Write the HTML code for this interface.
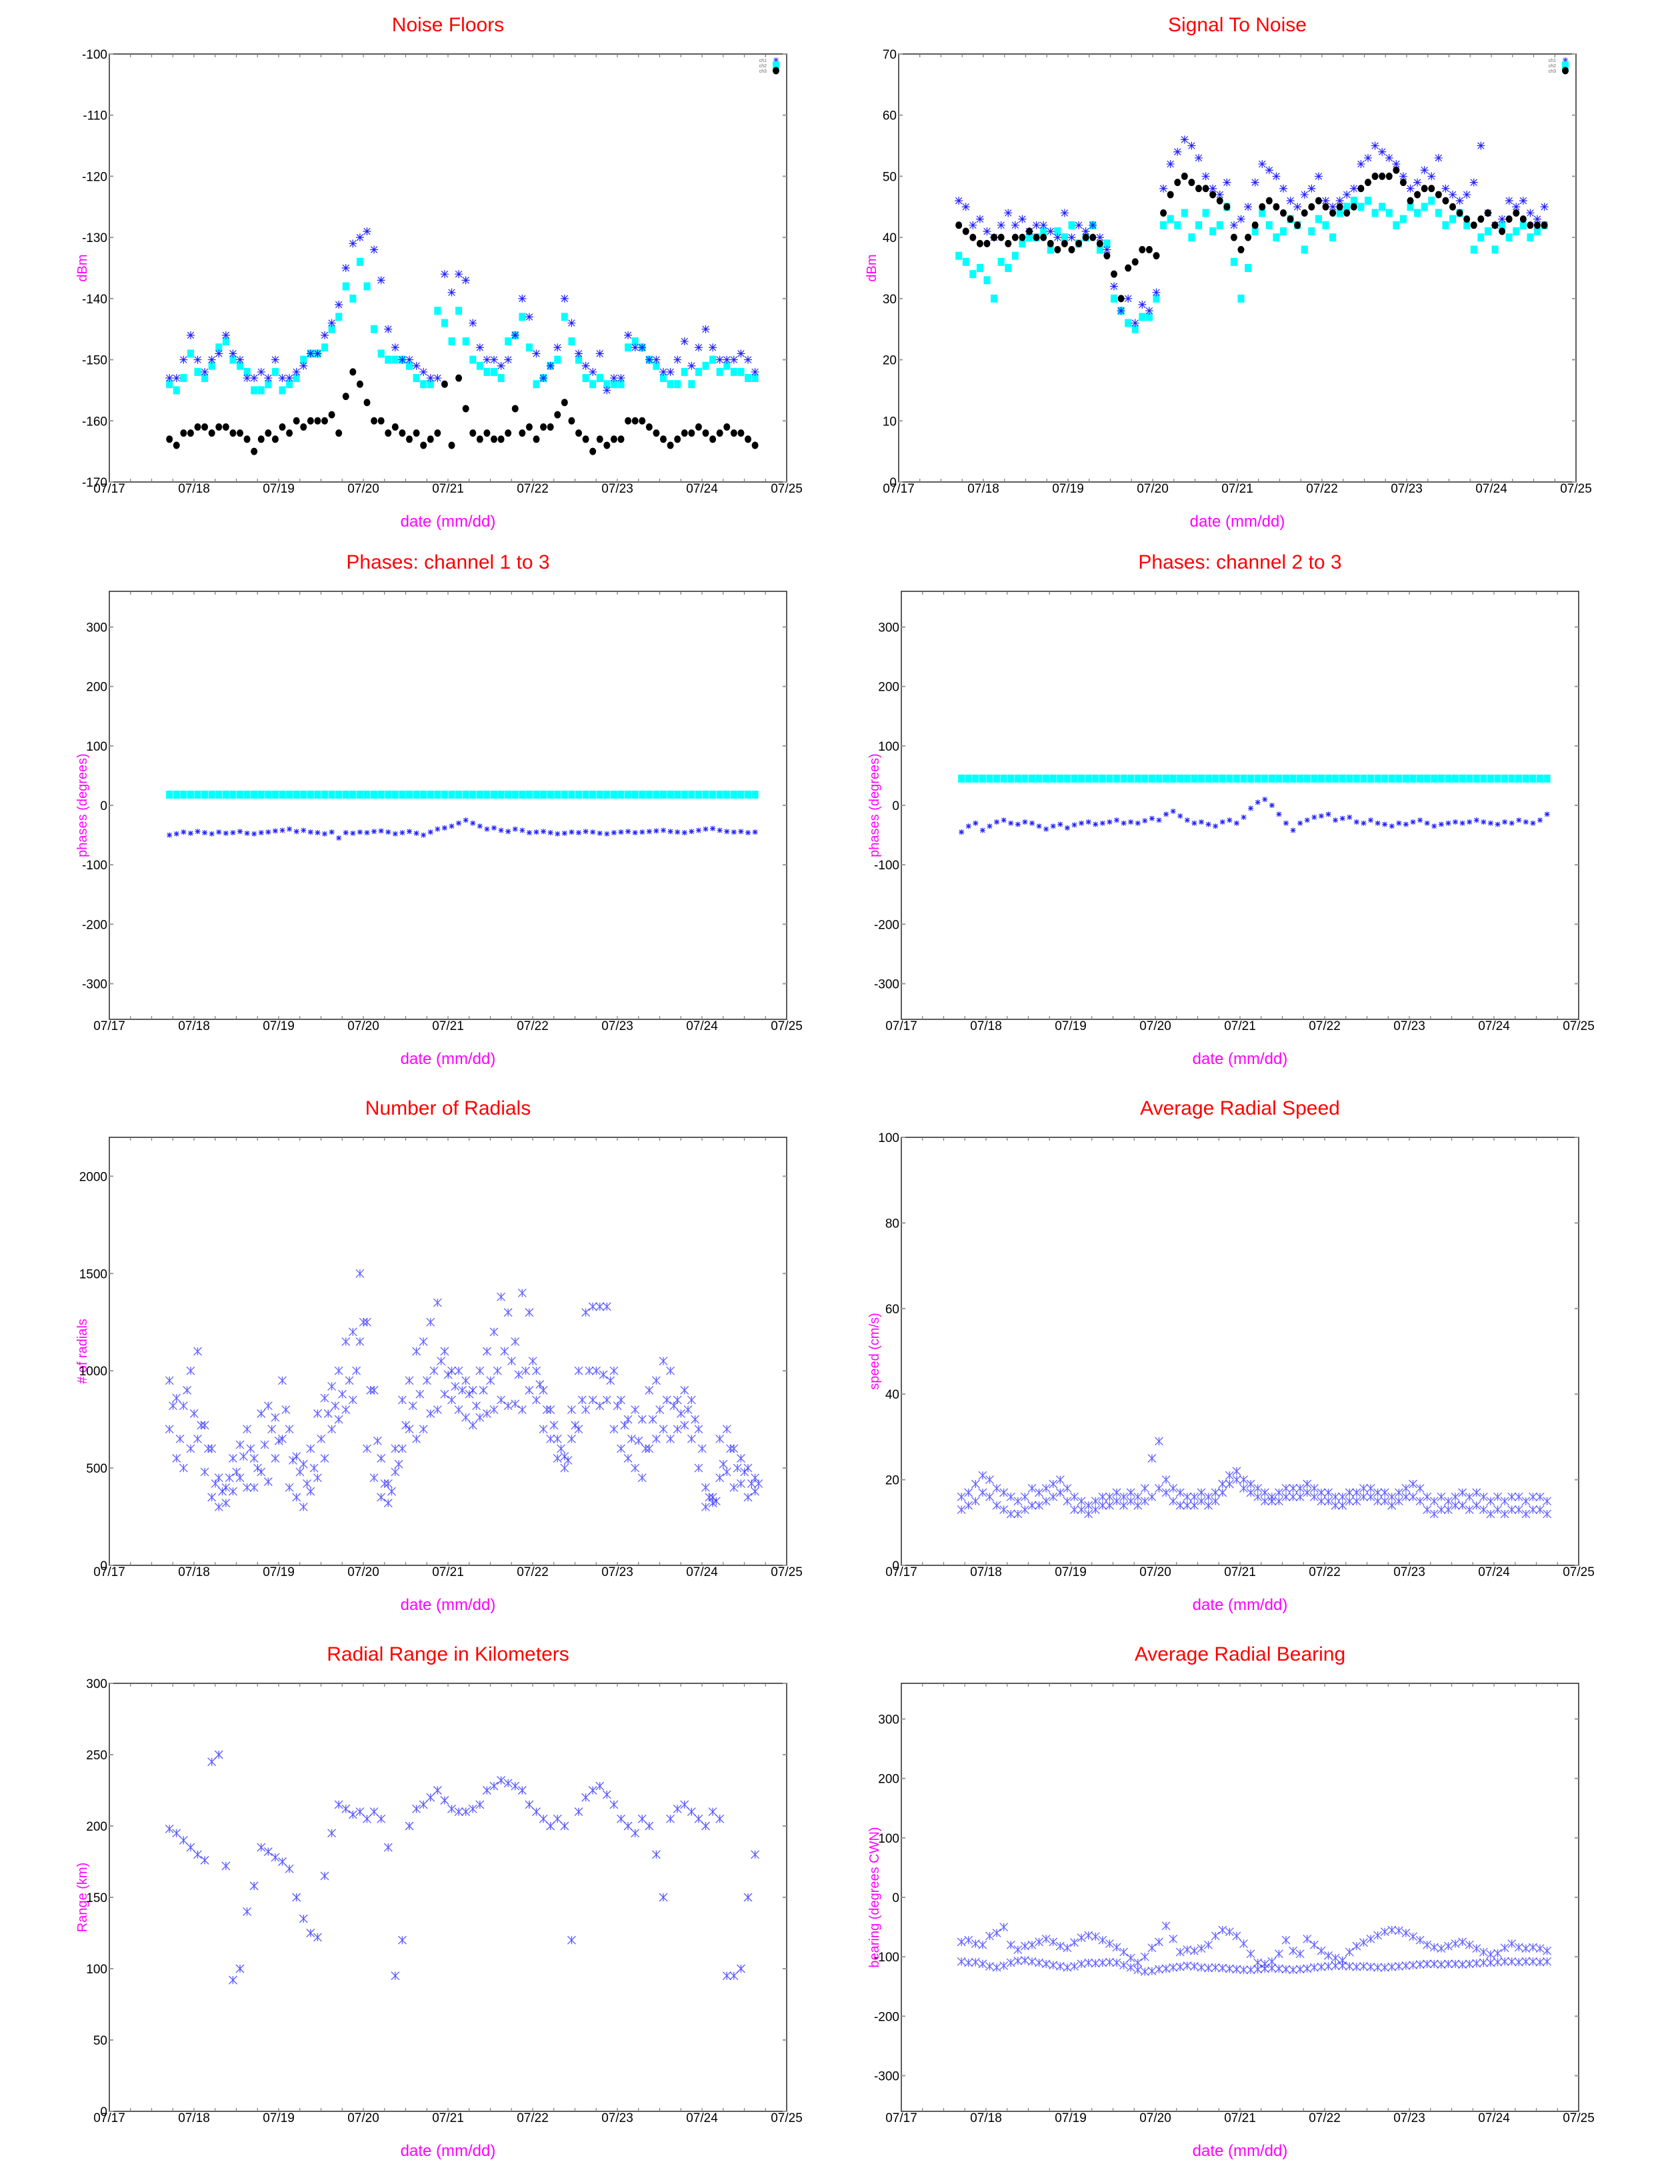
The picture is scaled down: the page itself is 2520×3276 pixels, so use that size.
<!DOCTYPE html>
<html><head><meta charset="utf-8"><title>Radial diagnostics</title>
<style>
html,body{margin:0;padding:0;background:#fff;}
svg{display:block;font-family:"Liberation Sans",sans-serif;}
.title{fill:#ff0000;font-size:30px;text-anchor:middle;}
.xlab{fill:#ff00ff;font-size:24px;text-anchor:middle;}
.ylab{fill:#ff00ff;font-size:20px;text-anchor:middle;}
</style></head>
<body>
<svg id="fig" width="2520" height="3276" viewBox="0 0 2520 3276" xmlns="http://www.w3.org/2000/svg">
<rect x="0" y="0" width="2520" height="3276" fill="#fff"/>
<g id="c-noise">
 <text class="title" x="672" y="47">Noise Floors</text>
 <text class="xlab" x="672" y="790">date (mm/dd)</text>
 <text class="ylab" transform="translate(130,402) rotate(-90)">dBm</text>
</g>
<g id="c-snr">
 <text class="title" x="1856" y="47">Signal To Noise</text>
 <text class="xlab" x="1856" y="790">date (mm/dd)</text>
 <text class="ylab" transform="translate(1314,402) rotate(-90)">dBm</text>
</g>
<g id="c-ph13">
 <text class="title" x="672" y="853">Phases: channel 1 to 3</text>
 <text class="xlab" x="672" y="1596">date (mm/dd)</text>
 <text class="ylab" transform="translate(130,1208) rotate(-90)">phases (degrees)</text>
</g>
<g id="c-ph23">
 <text class="title" x="1860" y="853">Phases: channel 2 to 3</text>
 <text class="xlab" x="1860" y="1596">date (mm/dd)</text>
 <text class="ylab" transform="translate(1318,1208) rotate(-90)">phases (degrees)</text>
</g>
<g id="c-rad">
 <text class="title" x="672" y="1672">Number of Radials</text>
 <text class="xlab" x="672" y="2415">date (mm/dd)</text>
 <text class="ylab" transform="translate(130,2027) rotate(-90)"># of radials</text>
</g>
<g id="c-spd">
 <text class="title" x="1860" y="1672">Average Radial Speed</text>
 <text class="xlab" x="1860" y="2415">date (mm/dd)</text>
 <text class="ylab" transform="translate(1318,2027) rotate(-90)">speed (cm/s)</text>
</g>
<g id="c-rng">
 <text class="title" x="672" y="2491">Radial Range in Kilometers</text>
 <text class="xlab" x="672" y="3234">date (mm/dd)</text>
 <text class="ylab" transform="translate(130,2846) rotate(-90)">Range (km)</text>
</g>
<g id="c-brg">
 <text class="title" x="1860" y="2491">Average Radial Bearing</text>
 <text class="xlab" x="1860" y="3234">date (mm/dd)</text>
 <text class="ylab" transform="translate(1318,2846) rotate(-90)">bearing (degrees CWN)</text>
</g>
</svg>
<script>
// ---- data ----
const xTickLabels = ["07/17","07/18","07/19","07/20","07/21","07/22","07/23","07/24","07/25"];
const tStart = 0.71;       // first sample, days after 07/17 00:00
const tStep = 1/12;        // 2-hour sampling

const noiseYTicks = [-170,-160,-150,-140,-130,-120,-110,-100];
const noiseCh1 = [-153,-153,-150,-146,-150,-152,-150,-149,-146,-149,-150,-153,
 -153,-152,-153,-150,-153,-153,-152,-151,-149,-149,-146,-144,
 -141,-135,-131,-130,-129,-132,-137,-145,-148,-150,-150,-151,
 -152,-153,-153,-136,-139,-136,-137,-144,-148,-150,-150,-151,
 -150,-146,-140,-143,-149,-153,-151,-148,-140,-144,-149,-151,
 -152,-149,-155,-153,-153,-146,-148,-148,-150,-150,-152,-152,
 -150,-147,-151,-148,-145,-148,-150,-150,-150,-149,-150,-152];
const noiseCh2 = [-154,-155,-153,-149,-152,-153,-151,-148,-147,-150,-151,-152,
 -155,-155,-154,-152,-155,-154,-153,-150,-149,-149,-148,-145,
 -143,-138,-140,-134,-138,-145,-149,-150,-150,-150,-151,-153,
 -154,-154,-142,-144,-147,-142,-147,-150,-151,-152,-152,-153,
 -147,-146,-143,-148,-154,-153,-151,-150,-143,-147,-150,-153,
 -154,-153,-154,-154,-154,-148,-147,-148,-150,-151,-153,-154,
 -154,-152,-154,-152,-151,-150,-152,-151,-152,-152,-153,-153];
const noiseCh3 = [-163,-164,-162,-162,-161,-161,-162,-161,-161,-162,-162,-163,
 -165,-163,-162,-163,-161,-162,-160,-161,-160,-160,-160,-159,
 -162,-156,-152,-154,-157,-160,-160,-162,-161,-162,-163,-162,
 -164,-163,-162,-154,-164,-153,-158,-162,-163,-162,-163,-163,
 -162,-158,-162,-161,-163,-161,-161,-159,-157,-160,-162,-163,
 -165,-163,-164,-163,-163,-160,-160,-160,-161,-162,-163,-164,
 -163,-162,-162,-161,-162,-163,-162,-161,-162,-162,-163,-164];

const snrYTicks = [0,10,20,30,40,50,60,70];
const snrCh1 = [46,45,42,43,41,40,42,44,42,43,41,42,
 42,41,40,44,40,42,41,42,40,38,32,28,
 30,26,29,28,31,48,52,54,56,55,53,50,
 48,47,49,42,43,45,49,52,51,50,48,46,
 45,47,48,50,46,45,46,47,48,52,53,55,
 54,53,52,50,48,49,51,50,53,48,47,46,
 47,49,55,44,42,43,46,45,46,44,43,45];
const snrCh2 = [37,36,34,35,33,30,36,35,37,39,40,40,
 41,38,41,40,42,39,40,42,38,39,30,28,
 26,25,27,27,30,42,43,42,44,40,42,44,
 41,42,45,36,30,35,41,44,42,40,41,43,
 42,38,41,43,42,40,44,45,46,45,46,44,
 45,44,42,43,45,44,45,46,44,42,43,44,
 42,38,40,41,38,42,40,41,42,40,41,42];
const snrCh3 = [42,41,40,39,39,40,40,39,40,40,41,40,
 40,39,38,39,38,39,40,40,39,37,34,30,
 35,36,38,38,37,44,47,49,50,49,48,48,
 47,46,45,40,38,40,42,45,46,45,44,43,
 42,44,45,46,45,44,45,44,45,48,49,50,
 50,50,51,49,46,47,48,48,47,46,45,44,
 43,42,43,44,42,41,43,44,43,42,42,42];

const phaseYTicks = [-300,-200,-100,0,100,200,300];
const phase13Ref = 18;
const phase13 = [-50,-48,-45,-47,-44,-46,-48,-45,-47,-46,-44,-47,
 -48,-46,-45,-43,-42,-40,-44,-42,-45,-46,-48,-45,
 -55,-46,-47,-45,-46,-44,-43,-45,-48,-46,-44,-47,
 -50,-45,-40,-38,-35,-30,-25,-30,-35,-40,-38,-42,
 -44,-40,-42,-46,-45,-44,-46,-48,-47,-45,-46,-44,
 -45,-47,-48,-46,-45,-44,-46,-45,-44,-43,-42,-44,
 -45,-46,-44,-42,-40,-39,-42,-44,-45,-44,-46,-45];
const phase23Ref = 45;
const phase23 = [-45,-35,-30,-42,-35,-28,-25,-30,-32,-28,-30,-35,
 -40,-35,-32,-38,-33,-30,-28,-32,-30,-28,-25,-30,
 -28,-30,-26,-22,-25,-15,-10,-18,-25,-30,-28,-32,
 -35,-28,-25,-30,-20,-5,5,10,0,-15,-30,-42,
 -30,-25,-20,-18,-15,-25,-22,-20,-28,-30,-25,-30,
 -32,-35,-30,-32,-28,-25,-30,-35,-32,-30,-28,-30,
 -28,-25,-28,-30,-32,-28,-30,-25,-28,-30,-25,-15];

const radYTicks = [0,500,1000,1500,2000];
const radialsA = [950,860,820,1000,1100,720,600,450,400,550,620,700,
 550,780,820,760,950,700,560,520,600,780,860,920,
 1000,1150,1200,1500,1250,900,550,420,600,850,950,1100,
 1150,1250,1350,1100,1000,1000,950,900,1000,1100,1200,1380,
 1300,1150,1400,1300,1000,900,800,650,560,800,1000,1300,
 1330,1330,1330,1000,850,750,800,750,900,950,1050,1000,
 850,900,850,700,400,350,650,700,600,550,500,450];
const radialsB = [700,550,500,600,650,480,350,300,320,380,450,400,
 400,480,430,550,650,400,350,300,380,450,550,700,
 750,800,850,1150,600,450,350,320,480,600,700,650,
 700,780,800,880,850,800,760,720,760,780,800,850,
 820,830,800,900,850,700,650,550,500,650,700,800,
 850,820,850,700,600,550,500,450,600,650,700,650,
 700,720,650,500,300,320,450,480,400,420,350,380];
const radialsC = [820,650,900,780,720,600,420,380,450,480,560,600,
 500,620,700,640,800,540,480,420,500,650,780,820,
 880,950,1000,1250,900,640,420,380,520,720,820,880,
 950,1000,1050,980,920,900,880,820,900,950,1000,1100,
 1050,980,1000,1050,930,800,720,600,540,720,850,1000,
 1000,980,950,820,720,650,640,600,750,800,850,820,
 780,800,750,600,350,330,520,600,500,480,420,420];

const speedYTicks = [0,20,40,60,80,100];
const speedA = [16,17,19,21,20,18,17,16,15,16,18,17,
 18,19,20,18,16,15,14,15,16,16,17,16,
 17,16,18,25,29,20,18,17,16,16,17,16,
 17,19,21,22,20,19,18,17,16,17,18,18,
 18,19,18,17,17,16,16,17,17,18,18,17,
 17,16,17,18,19,18,16,15,16,15,16,17,
 16,17,16,15,16,15,16,16,15,16,16,15];
const speedB = [13,14,15,17,16,14,13,12,12,13,14,14,
 15,16,17,15,13,13,12,13,14,14,15,14,
 15,14,15,16,18,17,15,14,14,14,15,14,
 15,17,19,20,18,17,16,15,15,15,16,16,
 16,17,16,15,15,14,14,15,15,16,16,15,
 15,14,15,16,16,15,13,12,13,13,14,14,
 13,14,13,12,13,12,13,13,12,13,13,12];

const rangeYTicks = [0,50,100,150,200,250,300];
const rangeKm = [198,195,190,185,180,176,245,250,172,92,100,140,
 158,185,182,178,175,170,150,135,125,122,165,195,
 215,212,208,210,205,210,205,185,95,120,200,212,
 215,220,225,218,212,210,210,212,215,225,228,232,
 230,228,225,215,210,205,200,205,200,120,210,220,
 225,228,222,215,205,200,195,205,200,180,150,205,
 212,215,210,205,200,210,205,95,95,100,150,180];

const bearingYTicks = [-300,-200,-100,0,100,200,300];
const bearingA = [-75,-72,-78,-80,-65,-60,-50,-80,-88,-82,-80,-75,
 -70,-75,-82,-85,-76,-68,-64,-66,-72,-78,-84,-92,
 -102,-110,-100,-85,-75,-48,-70,-92,-88,-90,-86,-80,
 -65,-55,-58,-65,-78,-95,-110,-112,-108,-95,-72,-90,
 -95,-70,-80,-90,-98,-102,-106,-92,-82,-76,-70,-64,
 -58,-55,-56,-60,-66,-72,-80,-84,-86,-82,-78,-75,
 -80,-86,-92,-96,-94,-85,-78,-84,-86,-84,-86,-90];
const bearingB = [-108,-110,-109,-112,-116,-118,-115,-110,-107,-106,-108,-110,
 -112,-114,-116,-118,-116,-112,-110,-111,-110,-109,-110,-114,
 -118,-122,-125,-124,-121,-120,-118,-117,-115,-116,-118,-119,
 -118,-119,-120,-121,-122,-122,-121,-120,-119,-120,-121,-122,
 -121,-120,-118,-117,-116,-115,-115,-116,-117,-116,-117,-118,
 -118,-117,-116,-115,-114,-113,-112,-112,-113,-112,-112,-113,
 -112,-111,-110,-110,-109,-108,-108,-109,-108,-108,-109,-108];

// ---- drawing ----
const NS = "http://www.w3.org/2000/svg";
const W = 1016, H = 642, DAYS = 8;
function mk(tag, parent) { const e = document.createElementNS(NS, tag); parent.appendChild(e); return e; }

function frame(gid, L, T, ymin, ymax, yticks) {
  const g = document.getElementById(gid);
  const sx = t => L + t / DAYS * W;
  const sy = v => T + H - (v - ymin) / (ymax - ymin) * H;
  const box = mk("rect", g);
  
  
  box.setAttribute("x", L); box.setAttribute("y", T); box.setAttribute("width", W); box.setAttribute("height", H);
  box.setAttribute("fill", "none"); box.setAttribute("stroke", "#333"); box.setAttribute("stroke-width", "1.6");
  for (let q = 1; q < DAYS * 4; q++) {
    const x = sx(q / 4);
    for (const [y1, y2] of [[T + H, T + H - 5], [T, T + 5]]) {
      const tk = mk("line", g);
      
      
      tk.setAttribute("x1", x); tk.setAttribute("x2", x); tk.setAttribute("y1", y1); tk.setAttribute("y2", y2);
      tk.setAttribute("stroke", "#777"); tk.setAttribute("stroke-width", "1.2");
    }
  }
  xTickLabels.forEach((lab, d) => {
    const tx = mk("text", g);
    
    
    tx.setAttribute("x", sx(d)); tx.setAttribute("y", T + H + 16);
    tx.setAttribute("font-size", "19"); tx.setAttribute("text-anchor", "middle");
    tx.textContent = lab;
  });
  yticks.forEach(v => {
    const y = sy(v);
    for (const [x1, x2] of [[L, L + 6], [L + W, L + W - 6]]) {
      const tk = mk("line", g);
      
      
      tk.setAttribute("x1", x1); tk.setAttribute("x2", x2); tk.setAttribute("y1", y); tk.setAttribute("y2", y);
      tk.setAttribute("stroke", "#999"); tk.setAttribute("stroke-width", "2");
    }
    const tx = mk("text", g);
    
    
    tx.setAttribute("x", L - 3); tx.setAttribute("y", y + 7);
    tx.setAttribute("font-size", "19"); tx.setAttribute("text-anchor", "end");
    tx.textContent = String(v);
  });
  return { g, sx, sy, L, T };
}

function star(g, x, y, r, color, sw, op) {
  const p = mk("path", g);
  
  
  const d = r * 0.8;
  p.setAttribute("d", `M${x-r},${y}H${x+r}M${x},${y-r}V${y+r}M${x-d},${y-d}L${x+d},${y+d}M${x-d},${y+d}L${x+d},${y-d}`);
  p.setAttribute("stroke", color); p.setAttribute("stroke-width", sw); p.setAttribute("opacity", op);
  return p;
}
function xmark(g, x, y, r, color, op) {
  const p = mk("path", g);
  
  
  p.setAttribute("d", `M${x-r},${y-r}L${x+r},${y+r}M${x-r},${y+r}L${x+r},${y-r}M${x},${y-r}V${y+r}`);
  p.setAttribute("stroke", color); p.setAttribute("stroke-width", "1.3"); p.setAttribute("opacity", op);
  p.setAttribute("fill", "none");
  return p;
}
function square(g, x, y, color) {
  const r = mk("rect", g);
  
  
  r.setAttribute("x", x - 5); r.setAttribute("y", y - 6); r.setAttribute("width", 10); r.setAttribute("height", 12);
  r.setAttribute("fill", color);
  return r;
}
function dot(g, x, y) {
  const c = mk("ellipse", g);
  
  
  c.setAttribute("cx", x); c.setAttribute("cy", y); c.setAttribute("rx", 5); c.setAttribute("ry", 5.5);
  c.setAttribute("fill", "#000");
  return c;
}
function tx(i) { return tStart + i * tStep; }

function legend(f) {
  const R = f.L + W;
  ["ch1","ch2","ch3"].forEach((lab, k) => {
    const t = mk("text", f.g);
    
    
    t.setAttribute("x", R - 30); t.setAttribute("y", f.T + 12 + k * 8);
    t.setAttribute("font-size", "7"); t.setAttribute("fill", "#666"); t.setAttribute("text-anchor", "end");
    t.textContent = lab;
  });
  star(f.g, R - 16, f.T + 9, 4, "#3030ff", 1, 1);
  square(f.g, R - 16, f.T + 17, "#00ffff");
  dot(f.g, R - 16, f.T + 25);
}

(function(){
  const f = frame("c-noise", 164, 81, -170, -100, noiseYTicks);
  noiseCh2.forEach((v,i)=>square(f.g, f.sx(tx(i)), f.sy(v), "#00ffff"));
  noiseCh1.forEach((v,i)=>star(f.g, f.sx(tx(i)), f.sy(v), 6, "#2020ff", 1.2, 1));
  noiseCh3.forEach((v,i)=>dot(f.g, f.sx(tx(i)), f.sy(v)));
  legend(f);
})();
(function(){
  const f = frame("c-snr", 1348, 81, 0, 70, snrYTicks);
  snrCh2.forEach((v,i)=>square(f.g, f.sx(tx(i)), f.sy(v), "#00ffff"));
  snrCh1.forEach((v,i)=>star(f.g, f.sx(tx(i)), f.sy(v), 6, "#2020ff", 1.2, 1));
  snrCh3.forEach((v,i)=>dot(f.g, f.sx(tx(i)), f.sy(v)));
  legend(f);
})();
(function(){
  const f = frame("c-ph13", 164, 887, -360, 360, phaseYTicks);
  phase13.forEach((v,i)=>square(f.g, f.sx(tx(i)), f.sy(phase13Ref), "#00ffff"));
  phase13.forEach((v,i)=>star(f.g, f.sx(tx(i)), f.sy(v), 4, "#2020ff", 1.2, 1));
})();
(function(){
  const f = frame("c-ph23", 1352, 887, -360, 360, phaseYTicks);
  phase23.forEach((v,i)=>square(f.g, f.sx(tx(i)), f.sy(phase23Ref), "#00ffff"));
  phase23.forEach((v,i)=>star(f.g, f.sx(tx(i)), f.sy(v), 4, "#2020ff", 1.2, 1));
})();
(function(){
  const f = frame("c-rad", 164, 1706, 0, 2200, radYTicks);
  radialsA.forEach((v,i)=>xmark(f.g, f.sx(tx(i)), f.sy(v), 6, "#2020ff", 0.7));
  radialsB.forEach((v,i)=>xmark(f.g, f.sx(tx(i)), f.sy(v), 6, "#2020ff", 0.7));
  radialsC.forEach((v,i)=>xmark(f.g, f.sx(tx(i) + tStep/2), f.sy(v), 6, "#2020ff", 0.7));
})();
(function(){
  const f = frame("c-spd", 1352, 1706, 0, 100, speedYTicks);
  speedA.forEach((v,i)=>xmark(f.g, f.sx(tx(i)), f.sy(v), 6, "#2020ff", 0.7));
  speedB.forEach((v,i)=>xmark(f.g, f.sx(tx(i)), f.sy(v), 6, "#2020ff", 0.7));
})();
(function(){
  const f = frame("c-rng", 164, 2525, 0, 300, rangeYTicks);
  rangeKm.forEach((v,i)=>xmark(f.g, f.sx(tx(i)), f.sy(v), 6, "#2020ff", 0.75));
})();
(function(){
  const f = frame("c-brg", 1352, 2525, -360, 360, bearingYTicks);
  bearingA.forEach((v,i)=>xmark(f.g, f.sx(tx(i)), f.sy(v), 6, "#2020ff", 0.7));
  bearingB.forEach((v,i)=>xmark(f.g, f.sx(tx(i)), f.sy(v), 6, "#2020ff", 0.7));
})();
</script>
</body></html>
